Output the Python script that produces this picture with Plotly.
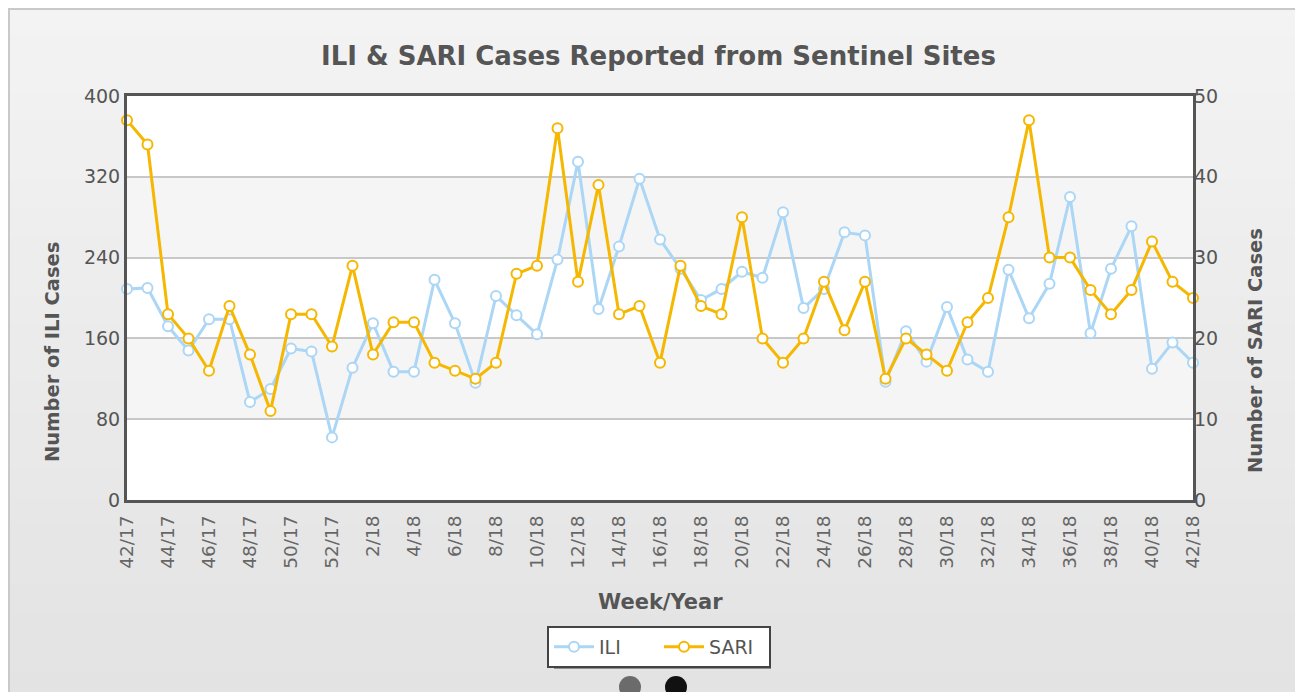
import plotly.graph_objects as go

weeks = [f"{w}/17" for w in range(42, 53)] + [f"{w}/18" for w in range(1, 43)]

ili_cases = [209, 210, 172, 148, 179, 179, 97, 110, 150, 147, 62, 131, 175, 127, 127,
             218, 175, 116, 202, 183, 164, 238, 335, 189, 251, 318, 258, 229, 198, 209,
             226, 220, 285, 190, 209, 265, 262, 117, 167, 137, 191, 139, 127, 228, 180,
             214, 300, 165, 229, 271, 130, 156, 136]

sari_cases = [47, 44, 23, 20, 16, 24, 18, 11, 23, 23, 19, 29, 18, 22, 22,
              17, 16, 15, 17, 28, 29, 46, 27, 39, 23, 24, 17, 29, 24, 23,
              35, 20, 17, 20, 27, 21, 27, 15, 20, 18, 16, 22, 25, 35, 47,
              30, 30, 26, 23, 26, 32, 27, 25]

tick_labels = weeks[::2]

TITLE = "ILI & SARI Cases Reported from Sentinel Sites"
ILI_COLOR = "#abd6f6"
SARI_COLOR = "#f6b700"

OFF = 8  # page body margin
W, H = 1303 - OFF, 692 - OFF
L, R, T, B = 127, 1193, 96, 500  # window pixel coords of plot area


def px(x):
    return (x - L) / (R - L)


def py(y):
    return (B - y) / (B - T)


fig = go.Figure()

fig.add_trace(go.Scatter(
    x=weeks, y=ili_cases, name="ILI", mode="lines+markers",
    line=dict(color=ILI_COLOR, width=3),
    marker=dict(symbol="circle", size=10, color="white",
                line=dict(color=ILI_COLOR, width=2)),
    cliponaxis=False, yaxis="y"))

fig.add_trace(go.Scatter(
    x=weeks, y=sari_cases, name="SARI", mode="lines+markers",
    line=dict(color=SARI_COLOR, width=3),
    marker=dict(symbol="circle", size=10, color="white",
                line=dict(color=SARI_COLOR, width=2)),
    cliponaxis=False, yaxis="y2"))

shapes = []
n = 24
top, bot = 6, 700
for i in range(n):
    y0 = top + (bot - top) * i / n
    y1 = top + (bot - top) * (i + 1) / n
    t = i / (n - 1)
    c = int(round(0xf3 - (0xf3 - 0xe3) * t))
    col = f"rgb({c},{c},{c})"
    shapes.append(dict(type="rect", xref="paper", yref="paper",
                       x0=px(0), x1=px(1320), y0=py(y0 - 3 if i == 0 else y0), y1=py(y1 + 1),
                       fillcolor=col, line=dict(width=0), layer="below"))
shapes.append(dict(type="rect", xref="paper", yref="paper",
                   x0=px(OFF + 1), x1=px(1320), y0=py(OFF + 1), y1=py(720),
                   fillcolor="rgba(0,0,0,0)", line=dict(color="#c9c9c9", width=2),
                   layer="below"))
shapes.append(dict(type="rect", xref="paper", yref="paper", x0=0, x1=1, y0=0, y1=1,
                   fillcolor="white", line=dict(width=0), layer="below"))
for a, b in [(80, 160), (240, 320)]:
    shapes.append(dict(type="rect", xref="paper", yref="paper", x0=0, x1=1,
                       y0=a / 400, y1=b / 400, fillcolor="#f5f5f5",
                       line=dict(width=0), layer="below"))
# legend shadow
shapes.append(dict(type="rect", xref="paper", yref="paper",
                   x0=px(554), x1=px(771), y0=py(669), y1=py(632),
                   fillcolor="#8f8f8f", line=dict(width=0), layer="below"))
for cx, colr in [(630, "#6b6b6b"), (676, "#111111")]:
    shapes.append(dict(type="circle", xref="paper", yref="paper",
                       xsizemode="pixel", ysizemode="pixel",
                       xanchor=px(cx), yanchor=py(687),
                       x0=-11, x1=11, y0=-11, y1=11,
                       fillcolor=colr, line=dict(width=0)))

FONT = "DejaVu Sans"
annotations = [
    dict(text="<b>Number of ILI Cases</b>", xref="paper", yref="paper",
         x=px(52), y=py(352), textangle=-90, showarrow=False,
         xanchor="center", yanchor="middle",
         font=dict(family=FONT, size=19.5, color="#555555")),
    dict(text="<b>Number of SARI Cases</b>", xref="paper", yref="paper",
         x=px(1255), y=py(351), textangle=-90, showarrow=False,
         xanchor="center", yanchor="middle",
         font=dict(family=FONT, size=19.5, color="#555555")),
    dict(text="<b>Week/Year</b>", xref="paper", yref="paper",
         x=px(660), y=py(602), showarrow=False, xanchor="center", yanchor="middle",
         font=dict(family=FONT, size=21, color="#555555")),
    dict(text=f"<b>{TITLE}</b>", xref="paper", yref="paper",
         x=px(658), y=py(56), showarrow=False, xanchor="center", yanchor="middle",
         font=dict(family=FONT, size=26, color="#555555")),
]

fig.update_layout(
    width=W, height=H,
    margin=dict(l=L - OFF, r=1303 - R, t=T - OFF, b=692 - B, pad=0),
    paper_bgcolor="white",
    plot_bgcolor="rgba(0,0,0,0)",
    showlegend=True,
    legend=dict(orientation="h", x=px(659), y=py(647), xanchor="center",
                yanchor="middle", bgcolor="white", bordercolor="#444444",
                borderwidth=2, font=dict(family=FONT, size=19, color="#555555"),
                itemwidth=40, entrywidth=55, tracegroupgap=0),
    shapes=shapes,
    annotations=annotations,
    xaxis=dict(type="category", range=[0, len(weeks) - 1],
               tickmode="array", tickvals=tick_labels, ticktext=tick_labels,
               tickangle=-90, showgrid=False, zeroline=False,
               showline=True, linecolor="#555555", linewidth=3, mirror=True,
               ticklabelstandoff=5,
               tickfont=dict(family=FONT, size=18.5, color="#666666")),
    yaxis=dict(range=[0, 400], dtick=80, showgrid=True, gridcolor="#c8c8c8",
               gridwidth=1.5, zeroline=False, showline=True,
               linecolor="#555555", linewidth=3, mirror=True,
               tickfont=dict(family=FONT, size=19, color="#555555")),
    yaxis2=dict(range=[0, 50], dtick=10, overlaying="y", side="right",
                showgrid=False, zeroline=False, showline=False,
                tickfont=dict(family=FONT, size=19, color="#555555")),
)

fig.write_html("out.html")
